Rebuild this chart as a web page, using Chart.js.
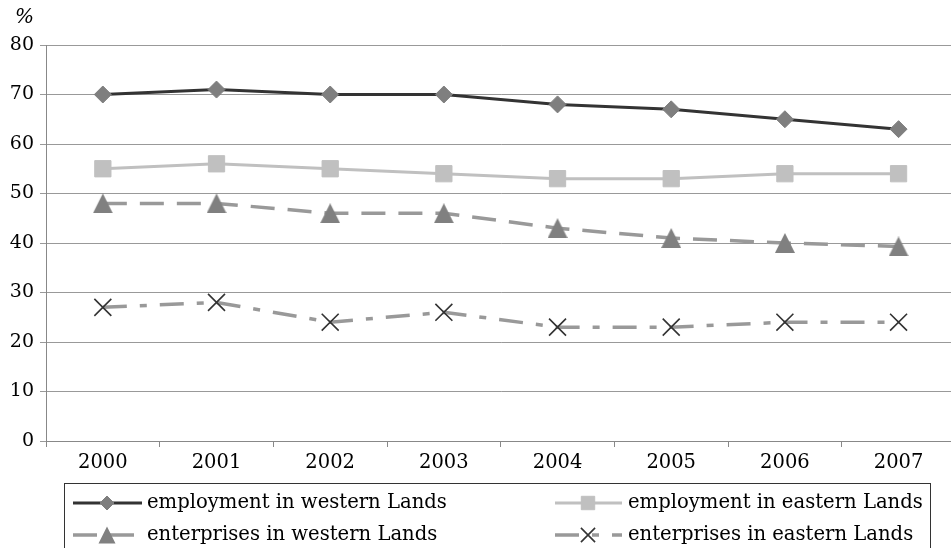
<!DOCTYPE html>
<html>
<head>
<meta charset="utf-8">
<script src="https://cdn.jsdelivr.net/npm/chart.js@4.4.1/dist/chart.umd.min.js"></script>
<style>
  html, body { margin: 0; padding: 0; background: #fff; overflow: hidden; width: 951px; height: 548px; }
  #wrap { position: relative; width: 969px; height: 548px; }
  #c { display: block; width: 969px; height: 548px; }
</style>
</head>
<body>
<div id="wrap"><canvas id="c" width="969" height="548"></canvas></div>
<script>
// Share of employment / enterprises, per cent
const years = ['2000', '2001', '2002', '2003', '2004', '2005', '2006', '2007'];
const employmentWest = [70, 71, 70, 70, 68, 67, 65, 63];
const employmentEast = [55, 56, 55, 54, 53, 53, 54, 54];
const enterprisesWest = [48, 48, 46, 46, 43, 41, 40, 39.3];
const enterprisesEast = [27, 28, 24, 26, 23, 23, 24, 24];
const seriesNames = [
  'employment in western Lands',
  'employment in eastern Lands',
  'enterprises in western Lands',
  'enterprises in eastern Lands'
];
const yTicks = [0, 10, 20, 30, 40, 50, 60, 70, 80];
const unitLabel = '%';

const FONT = '"DejaVu Serif", serif';
const TEXT = '#000';

// Box-centred triangle marker (base and height equal)
function triangleImage(w, h, color) {
  const cv = document.createElement('canvas');
  cv.width = w; cv.height = h;
  const g = cv.getContext('2d');
  g.fillStyle = color;
  g.beginPath();
  g.moveTo(w / 2, 0); g.lineTo(w, h); g.lineTo(0, h); g.closePath();
  g.fill();
  return cv;
}
const triMarker = triangleImage(20, 20, '#808080');

const styles = [
  { line: '#333333', width: 3, dash: [], marker: 'rectRot', radius: 8.5, fill: '#7f7f7f', stroke: '#7f7f7f', mw: 1, lr: 7 },
  { line: '#c0c0c0', width: 3, dash: [], marker: 'rect', radius: 11.5, fill: '#c0c0c0', stroke: '#c0c0c0', mw: 1, lr: 9.5 },
  { line: '#999999', width: 3.5, dash: [24, 13], marker: triMarker, radius: 10, fill: '#808080', stroke: '#808080', mw: 1, lr: 8.5 },
  { line: '#999999', width: 3.5, dash: [24, 13, 7, 13], marker: 'crossRot', radius: 12, fill: '#333333', stroke: '#333333', mw: 1.6, lr: 10 }
];
const values = [employmentWest, employmentEast, enterprisesWest, enterprisesEast];

// Marker glyphs for the legend box
function drawMarker(ctx, s, x, y, r) {
  ctx.save();
  ctx.fillStyle = s.fill;
  ctx.strokeStyle = s.stroke;
  ctx.lineWidth = s.mw;
  ctx.setLineDash([]);
  ctx.beginPath();
  if (s.marker === 'rectRot') {
    ctx.moveTo(x - r, y); ctx.lineTo(x, y - r); ctx.lineTo(x + r, y); ctx.lineTo(x, y + r); ctx.closePath();
    ctx.fill(); ctx.stroke();
  } else if (s.marker === 'rect') {
    const h = r * Math.SQRT1_2;
    ctx.rect(x - h, y - h, 2 * h, 2 * h); ctx.fill(); ctx.stroke();
  } else if (s.marker === triMarker) {
    ctx.moveTo(x, y - r); ctx.lineTo(x + r, y + r); ctx.lineTo(x - r, y + r); ctx.closePath();
    ctx.fill();
  } else if (s.marker === 'crossRot') {
    const h = r * Math.SQRT1_2;
    ctx.moveTo(x - h, y - h); ctx.lineTo(x + h, y + h);
    ctx.moveTo(x + h, y - h); ctx.lineTo(x - h, y + h);
    ctx.stroke();
  }
  ctx.restore();
}

const legendBox = {
  id: 'legendBox',
  afterDraw(chart) {
    const ctx = chart.ctx;
    ctx.save();
    // unit label above the value axis
    ctx.font = 'italic 20px ' + FONT;
    ctx.fillStyle = TEXT;
    ctx.textAlign = 'left';
    ctx.textBaseline = 'middle';
    ctx.fillText(unitLabel, 15, 18);

    // framed legend
    ctx.strokeStyle = '#333';
    ctx.lineWidth = 1;
    ctx.strokeRect(64.5, 483.5, 866, 90);

    const cols = [{ x0: 73, x1: 142, m: 107, t: 147 }, { x0: 555, x1: 622, m: 588, t: 628 }];
    const rows = [503, 535];
    [0, 1, 2, 3].forEach((i, k) => {
      const c = cols[k % 2], y = rows[Math.floor(k / 2)], s = styles[i];
      ctx.save();
      ctx.strokeStyle = s.line;
      ctx.lineWidth = s.width;
      ctx.lineCap = 'butt';
      ctx.setLineDash(s.dash);
      ctx.beginPath(); ctx.moveTo(c.x0, y); ctx.lineTo(c.x1, y); ctx.stroke();
      ctx.restore();
      drawMarker(ctx, s, c.m, y, s.lr);
      ctx.font = '19.6px ' + FONT;
      ctx.fillStyle = TEXT;
      ctx.textAlign = 'left';
      ctx.textBaseline = 'middle';
      ctx.fillText(seriesNames[i], c.t, y);
    });
    ctx.restore();
  }
};

new Chart(document.getElementById('c'), {
  type: 'line',
  data: {
    labels: years,
    datasets: values.map((v, i) => ({
      label: seriesNames[i],
      data: v,
      borderColor: styles[i].line,
      borderWidth: styles[i].width,
      borderDash: styles[i].dash,
      borderCapStyle: 'butt',
      tension: 0,
      fill: false,
      pointStyle: styles[i].marker,
      pointRadius: styles[i].radius,
      pointBackgroundColor: styles[i].fill,
      pointBorderColor: styles[i].stroke,
      pointBorderWidth: styles[i].mw
    }))
  },
  options: {
    responsive: false,
    animation: false,
    devicePixelRatio: 1,
    layout: { padding: { top: 45, bottom: 63, left: 0, right: 0 } },
    plugins: { legend: { display: false }, tooltip: { enabled: false } },
    scales: {
      x: {
        offset: true,
        grid: { display: true, drawOnChartArea: false, drawTicks: true, tickLength: 6, color: '#888', offset: true },
        border: { color: '#888', width: 1 },
        ticks: { font: { family: FONT, size: 19.5 }, color: TEXT, padding: 4, maxRotation: 0 },
        afterFit(s) { s.height = 44; s.paddingLeft = 0; s.paddingRight = 0; }
      },
      y: {
        min: 0, max: 80,
        afterBuildTicks(s) { s.ticks = yTicks.map(v => ({ value: v })); },
        grid: { color: '#999', tickLength: 6, lineWidth: 1 },
        border: { color: '#888', width: 1 },
        ticks: { font: { family: FONT, size: 19 }, color: TEXT, padding: 6 },
        afterFit(s) { s.width = 46; s.paddingTop = 0; s.paddingBottom = 0; }
      }
    }
  },
  plugins: [legendBox]
});
</script>
</body>
</html>
